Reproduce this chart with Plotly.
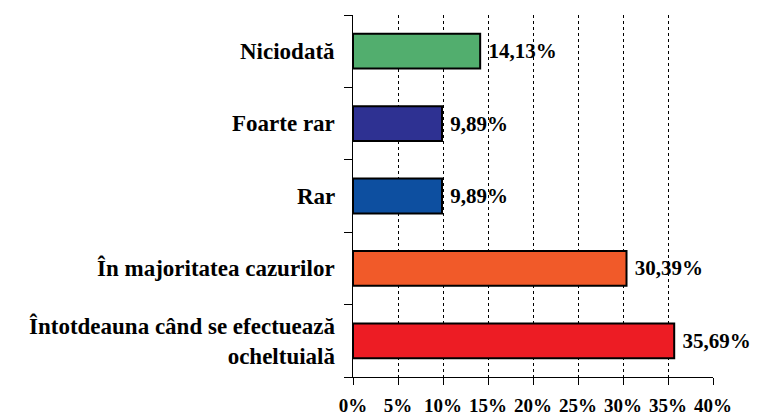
import plotly.graph_objects as go

categories = ["Întotdeauna când se efectuează<br>ocheltuială", "În majoritatea cazurilor", "Rar", "Foarte rar", "Niciodată"]
values = [35.69, 30.39, 9.89, 9.89, 14.13]
value_labels = ["35,69%", "30,39%", "9,89%", "9,89%", "14,13%"]
colors = ["#ED1C24", "#F15A29", "#0D4FA0", "#2E3192", "#52AE6E"]
x_ticks = [0, 5, 10, 15, 20, 25, 30, 35, 40]
x_tick_labels = ["0%", "5%", "10%", "15%", "20%", "25%", "30%", "35%", "40%"]

FONT = "Liberation Serif"
pos = list(range(len(categories)))

fig = go.Figure()
fig.add_trace(go.Bar(
    x=values, y=pos, orientation="h",
    marker=dict(color=colors, line=dict(color="black", width=2)),
    width=0.48,
    text=["\u00a0<b>%s</b>" % t for t in value_labels],
    textposition="outside",
    constraintext="none",
    textfont=dict(family=FONT, size=21, color="black"),
    cliponaxis=False,
    hoverinfo="skip",
))

for p, c in zip(pos, categories):
    fig.add_annotation(
        x=0, xref="paper", y=p, yref="y",
        text="<b>%s</b>" % c, showarrow=False,
        xanchor="right", yanchor="middle", align="right",
        xshift=-16,
        font=dict(family=FONT, size=23, color="black"),
    )

fig.update_layout(
    width=757, height=419,
    margin=dict(l=353, r=44, t=15, b=42, autoexpand=False),
    paper_bgcolor="white", plot_bgcolor="white",
    showlegend=False,
    xaxis=dict(
        range=[0, 40], tickvals=x_ticks,
        ticktext=["<b>%s</b>" % t for t in x_tick_labels],
        tickfont=dict(family=FONT, size=19, color="black"),
        ticklabelstandoff=4,
        automargin=False,
        showgrid=True, gridcolor="black", griddash="dot", gridwidth=1,
        showline=True, linecolor="black", linewidth=1,
        ticks="outside", ticklen=7, tickcolor="black",
        zeroline=False, fixedrange=True,
    ),
    yaxis=dict(
        range=[-0.5, 4.5],
        tickvals=[-0.5, 0.5, 1.5, 2.5, 3.5, 4.5],
        showticklabels=False,
        ticks="outside", ticklen=8, tickcolor="black",
        showgrid=False, zeroline=False,
        showline=True, linecolor="black", linewidth=1,
        automargin=False,
        fixedrange=True,
    ),
)

fig.write_html(
    "out.html",
    config={"displayModeBar": False},
    post_script="document.body.style.margin='0';document.body.style.overflow='hidden';",
)
